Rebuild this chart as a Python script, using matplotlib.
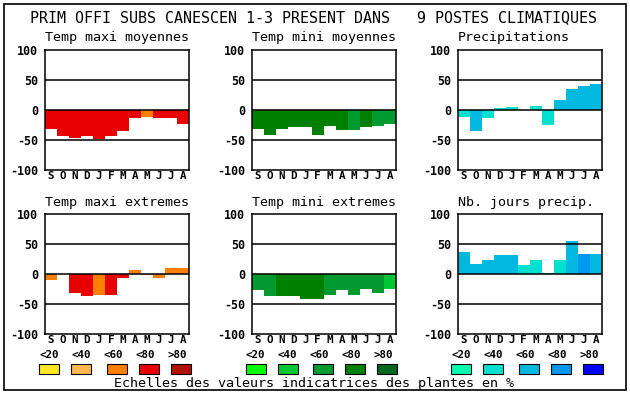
import matplotlib
matplotlib.use("Agg")
import matplotlib.pyplot as plt
from matplotlib.patches import Rectangle

months = ["S", "O", "N", "D", "J", "F", "M", "A", "M", "J", "J", "A"]
yticks = [100, 50, 0, -50, -100]
legend_labels = ["<20", "<40", "<60", "<80", ">80"]

reds = ["#ffe820", "#ffb850", "#ff8000", "#e80000", "#b01000"]
greens = ["#00ff00", "#00c832", "#009a30", "#008000", "#006820"]
blues = ["#00ffb0", "#00e0d0", "#00b8e0", "#0098f0", "#0000ff"]

titles = ["Temp maxi moyennes", "Temp mini moyennes", "Precipitations",
          "Temp maxi extremes", "Temp mini extremes", "Nb. jours precip."]

tmax_moy = [-31, -43, -46, -44, -48, -44, -35, -14, -11, -14, -14, -23]
tmax_moy_cls = [3, 3, 3, 3, 3, 3, 3, 3, 2, 3, 3, 3]
tmin_moy = [-32, -41, -32, -28, -28, -41, -27, -34, -33, -28, -26, -23]
tmin_moy_cls = [3, 3, 3, 3, 3, 3, 3, 3, 2, 3, 2, 2]
precip = [-11, -35, -14, 4, 5, 0, 7, -25, 16, 35, 40, 43]
precip_cls = [1, 2, 1, 1, 1, 1, 1, 1, 2, 2, 2, 2]
tmax_ext = [-10, 0, -32, -36, -34, -34, -6, 7, -2, -6, 10, 10]
tmax_ext_cls = [2, 2, 3, 3, 2, 3, 3, 2, 2, 2, 2, 2]
tmin_ext = [-27, -36, -36, -37, -42, -42, -34, -27, -34, -24, -31, -25]
tmin_ext_cls = [2, 2, 3, 3, 3, 3, 2, 2, 2, 2, 2, 1]
nbj = [37, 17, 24, 32, 32, 16, 24, 2, 24, 55, 34, 34]
nbj_cls = [2, 2, 2, 2, 2, 1, 1, 1, 1, 2, 3, 2]

W, H = 630, 394
fig = plt.figure(figsize=(W / 100, H / 100), dpi=100)
fig.patch.set_facecolor("white")
mono = "DejaVu Sans Mono"

# outer frame
fig.add_artist(Rectangle((4 / W, 4 / H), (626 - 4) / W, (390 - 4) / H,
                         transform=fig.transFigure, fill=False,
                         edgecolor="black", linewidth=1.2))

fig.text(314 / W, 1 - 18 / H,
         "PRIM OFFI SUBS CANESCEN 1-3 PRESENT DANS   9 POSTES CLIMATIQUES",
         family=mono, fontsize=10.8, ha="center", va="center")

lefts = [45, 251.7, 457.7]
rows = [(50, 170), (214.3, 334.3)]
data = [(tmax_moy, tmax_moy_cls, reds), (tmin_moy, tmin_moy_cls, greens),
        (precip, precip_cls, blues), (tmax_ext, tmax_ext_cls, reds),
        (tmin_ext, tmin_ext_cls, greens), (nbj, nbj_cls, blues)]

for i, (vals, cls, pal) in enumerate(data):
    r, c = divmod(i, 3)
    top, bot = rows[r]
    x0 = lefts[c]
    ax = fig.add_axes([x0 / W, 1 - bot / H, 144 / W, (bot - top) / H])
    xs = list(range(len(months)))
    ax.bar(xs, vals, width=1.0, color=[pal[k] for k in cls],
           linewidth=0, zorder=2)
    for yv in (50, 0, -50):
        ax.axhline(yv, color="black", linewidth=1.1, zorder=3)
    ax.set_xlim(-0.5, 11.5)
    ax.set_ylim(-100, 100)
    ax.set_yticks(yticks)
    ax.set_yticklabels([str(v) for v in yticks], family=mono,
                       fontweight="bold", fontsize=8.4)
    ax.set_xticks(xs)
    ax.set_xticklabels(months, family=mono, fontweight="bold", fontsize=7.8)
    ax.tick_params(axis="y", length=0, pad=5)
    ax.tick_params(axis="x", length=0, pad=0.7)
    for s in ax.spines.values():
        s.set_linewidth(1.1)
    fig.text(x0 / W, 1 - (top - 12) / H, titles[i], family=mono,
             fontsize=9.6, ha="left", va="center")

# legends
box_lefts = [[39, 71, 107, 139, 171], [246, 278, 313, 345, 377],
             [451, 483, 519, 551, 583]]
label_centers = [[49, 81, 113, 145, 177], [255.5, 287.5, 319.5, 351.5, 383.5],
                 [461, 493, 525, 557, 589]]
pals = [reds, greens, blues]
for c in range(3):
    for k in range(5):
        fig.text(label_centers[c][k] / W, 1 - 355 / H, legend_labels[k],
                 family=mono, fontweight="bold", fontsize=7.8,
                 ha="center", va="center")
        fig.add_artist(Rectangle((box_lefts[c][k] / W, 1 - 373.5 / H),
                                 20 / W, 9.5 / H, transform=fig.transFigure,
                                 facecolor=pals[c][k], edgecolor="black",
                                 linewidth=0.8))

fig.text(314 / W, 1 - 383 / H,
         "Echelles des valeurs indicatrices des plantes en %",
         family=mono, fontsize=9.6, ha="center", va="center")

fig.savefig("out.png", dpi=100, facecolor="white")
